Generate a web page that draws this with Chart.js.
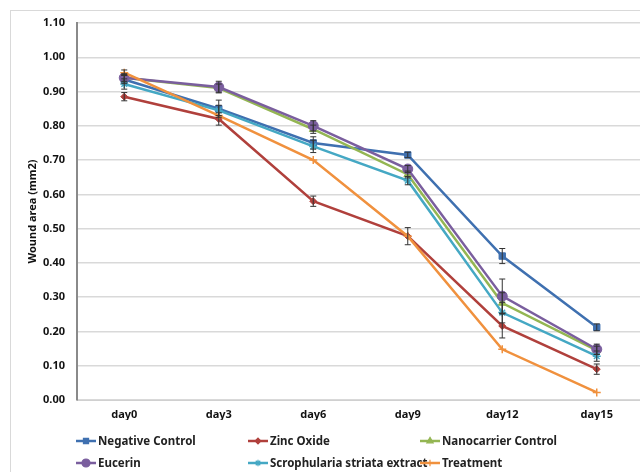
<!DOCTYPE html>
<html lang="en">
<head>
<meta charset="UTF-8">
<title>Wound area</title>
<script src="https://cdn.jsdelivr.net/npm/chart.js"></script>
<style>
  html, body { margin: 0; padding: 0; overflow: hidden; }
  body { background: #fff; width: 640px; height: 472px; position: relative; font-family: "Noto Sans", sans-serif; }
  #frame { position: absolute; left: 10px; top: 10px; width: 660px; height: 500px; border-left: 1px solid #d9d9d9; border-top: 1px solid #d9d9d9; }
  #wrap { position: absolute; left: 0; top: 0; width: 650px; height: 472px; }
  #legend { position: absolute; left: 76px; top: 432px; display: grid; grid-template-columns: 172px 172px 200px; row-gap: 5px; font-weight: bold; font-size: 11.5px; color: #222; }
  #legend div { display: flex; align-items: center; height: 17px; white-space: nowrap; }
  #legend canvas { margin-right: 2px; }
</style>
</head>
<body>
<div id="frame"></div>
<div id="wrap"><canvas id="woundChart" width="650" height="472"></canvas></div>
<div id="legend"></div>
<script>
const days = ['day0', 'day3', 'day6', 'day9', 'day12', 'day15'];
const seriesNames = ['Negative Control', 'Zinc Oxide', 'Nanocarrier Control', 'Eucerin', 'Scrophularia striata extract', 'Treatment'];

const negativeControl = [0.935, 0.850, 0.750, 0.715, 0.420, 0.212];
const zincOxide = [0.885, 0.820, 0.580, 0.478, 0.216, 0.090];
const nanocarrierControl = [0.940, 0.910, 0.790, 0.658, 0.283, 0.145];
const eucerin = [0.940, 0.913, 0.800, 0.674, 0.303, 0.148];
const scrophularia = [0.922, 0.845, 0.740, 0.640, 0.255, 0.128];
const treatment = [0.955, 0.830, 0.700, 0.478, 0.148, 0.022];

// standard error
const negativeControlErr = [0.012, 0.025, 0.018, 0.008, 0.022, 0.010];
const zincOxideErr = [0.012, 0.018, 0.015, 0.025, 0.035, 0.015];
const nanocarrierControlErr = [0.010, 0.012, 0.012, 0.010, 0.030, 0.012];
const eucerinErr = [0.012, 0.017, 0.015, 0.010, 0.050, 0.015];
const scrophulariaErr = [0.015, 0.015, 0.018, 0.012, 0.030, 0.015];
const treatmentErr = [0.008, 0, 0, 0, 0, 0];

const yTicks = [0, 0.1, 0.2, 0.3, 0.4, 0.5, 0.6, 0.7, 0.8, 0.9, 1.0, 1.1];

const colors = ['#3F70B0', '#B0403C', '#94B653', '#7A5E9E', '#45A8C4', '#F0913E'];
const markers = ['rect', 'rectRot', 'triangle', 'circle', 'star', 'cross'];
const markerSizes = [4.5, 3.5, 4.5, 5, 4, 4];
const values = [negativeControl, zincOxide, nanocarrierControl, eucerin, scrophularia, treatment];
const errors = [negativeControlErr, zincOxideErr, nanocarrierControlErr, eucerinErr, scrophulariaErr, treatmentErr];

const datasets = seriesNames.map((name, i) => ({
    label: name,
    data: values[i],
    borderColor: colors[i],
    backgroundColor: colors[i],
    borderWidth: 2.5,
    pointStyle: markers[i],
    pointRadius: markerSizes[i],
    pointBorderWidth: (markers[i] === 'star' || markers[i] === 'cross') ? 1.5 : 1,
    order: seriesNames.length - i,
    errors: errors[i]
}));

// Excel-like error bars drawn through the y scale
const errorBars = {
    id: 'errorBars',
    afterDatasetsDraw(chart) {
        const ctx = chart.ctx;
        const y = chart.scales.y;
        ctx.save();
        ctx.strokeStyle = '#333';
        ctx.lineWidth = 1;
        chart.data.datasets.forEach((ds, i) => {
            const meta = chart.getDatasetMeta(i);
            meta.data.forEach((pt, j) => {
                const e = ds.errors[j];
                if (!e) return;
                const top = y.getPixelForValue(ds.data[j] + e);
                const bot = y.getPixelForValue(ds.data[j] - e);
                ctx.beginPath();
                ctx.moveTo(pt.x, top); ctx.lineTo(pt.x, bot);
                ctx.moveTo(pt.x - 3, top); ctx.lineTo(pt.x + 3, top);
                ctx.moveTo(pt.x - 3, bot); ctx.lineTo(pt.x + 3, bot);
                ctx.stroke();
            });
        });
        ctx.restore();
    }
};

const tickFont = { family: 'Noto Sans', size: 11, weight: 'bold' };

new Chart(document.getElementById('woundChart').getContext('2d'), {
    type: 'line',
    data: { labels: days, datasets: datasets },
    options: {
        responsive: false,
        animation: false,
        layout: { padding: { left: 10, top: 23, right: 0, bottom: 52 } },
        plugins: { legend: { display: false }, tooltip: { enabled: false } },
        scales: {
            x: {
                offset: true,
                grid: { display: false, drawTicks: false },
                border: { color: '#d0d0d0', width: 1 },
                ticks: { font: tickFont, color: '#111', padding: 8 },
                afterFit(scale) { scale.height = 20; }
            },
            y: {
                min: 0,
                max: 1.1,
                afterBuildTicks(scale) { scale.ticks = yTicks.map(v => ({ value: v })); },
                grid: { color: '#d9d9d9', lineWidth: 1.5, drawTicks: false },
                border: { color: '#8a8a8a', width: 2 },
                ticks: { font: tickFont, color: '#111', padding: 12, callback: v => v.toFixed(2) },
                title: { display: true, text: 'Wound area (mm2)', font: tickFont, color: '#111', padding: { top: 16, bottom: 0 } },
                afterFit(scale) { scale.width = 67; }
            }
        }
    },
    plugins: [errorBars]
});

// legend: three columns, two rows, as in the original
const legend = document.getElementById('legend');
seriesNames.forEach((name, i) => {
    const item = document.createElement('div');
    const c = document.createElement('canvas');
    c.width = 20; c.height = 12;
    const g = c.getContext('2d');
    g.strokeStyle = colors[i]; g.fillStyle = colors[i]; g.lineWidth = 2.5;
    g.beginPath(); g.moveTo(0, 6); g.lineTo(20, 6); g.stroke();
    g.lineWidth = 1.2;
    Chart.helpers.drawPoint(g, {
        pointStyle: markers[i], radius: markerSizes[i] * 0.8, borderWidth: 1.2
    }, 10, 6);
    item.appendChild(c);
    item.appendChild(document.createTextNode(name));
    legend.appendChild(item);
});
</script>
</body>
</html>
